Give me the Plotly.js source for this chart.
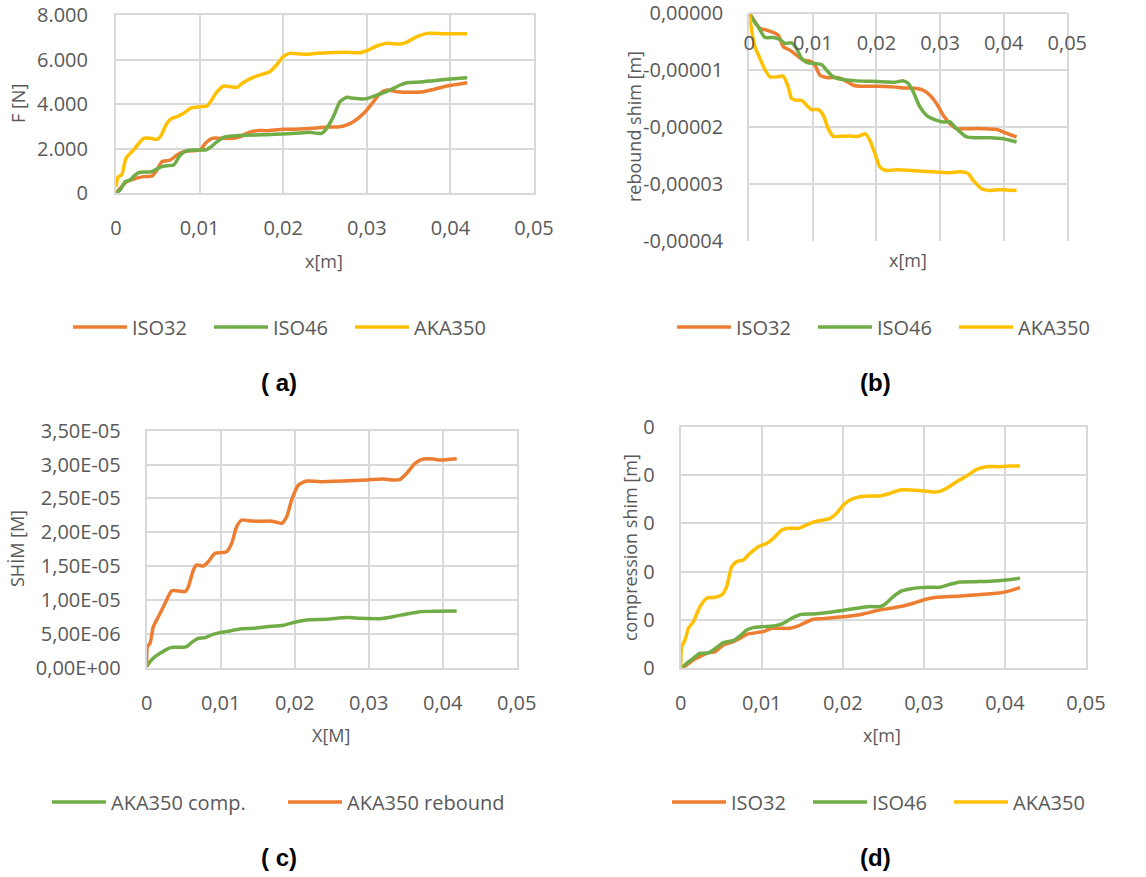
<!DOCTYPE html>
<html><head><meta charset="utf-8">
<script src="https://cdn.plot.ly/plotly-3.0.1.min.js"></script>
<style>html,body{margin:0;padding:0;background:#fff}#chart{width:1146px;height:877px}</style>
</head><body><div id="chart"></div>
<script>
// ---------- tick labels ----------
const xTickVals = [0, 0.01, 0.02, 0.03, 0.04, 0.05];
const xTickText = ['0', '0,01', '0,02', '0,03', '0,04', '0,05'];
const aYTickVals = [0, 2000, 4000, 6000, 8000];
const aYTickText = ['0', '2.000', '4.000', '6.000', '8.000'];
const bYTickVals = [0, -1e-5, -2e-5, -3e-5, -4e-5];
const bYTickText = ['0,00000', '-0,00001', '-0,00002', '-0,00003', '-0,00004'];
const cYTickVals = [0, 5e-6, 1e-5, 1.5e-5, 2e-5, 2.5e-5, 3e-5, 3.5e-5];
const cYTickText = ['0,00E+00', '5,00E-06', '1,00E-05', '1,50E-05', '2,00E-05', '2,50E-05', '3,00E-05', '3,50E-05'];
const dYTickVals = [0, 2e-6, 4e-6, 6e-6, 8e-6, 1e-5];
const dYTickText = ['0', '0', '0', '0', '0', '0'];

// ---------- (a) force F [N] ----------
const aIso32X = [0,0.0005,0.0013,0.0021,0.0033,0.0043,0.0049,0.0055,0.0065,0.0073,0.0081,0.0093,0.0101,0.0107,0.0115,0.0125,0.0141,0.0149,0.0156,0.0168,0.0180,0.0200,0.0220,0.0240,0.0252,0.0268,0.0276,0.0284,0.0292,0.0300,0.0308,0.0316,0.0324,0.0336,0.0352,0.0368,0.0380,0.0396,0.0420];
const aIso32Y = [0,224,523,643,748,777,1047,1420,1495,1719,1869,1914,1944,2243,2467,2467,2467,2542,2691,2811,2811,2870,2885,2930,2975,2990,3065,3214,3439,3738,4111,4485,4635,4560,4530,4560,4664,4814,4963];
const aIso46X = [0,0.0005,0.0011,0.0017,0.0023,0.0029,0.0041,0.0047,0.0055,0.0063,0.0069,0.0077,0.0085,0.0097,0.0107,0.0113,0.0121,0.0129,0.0141,0.0152,0.0168,0.0180,0.0200,0.0220,0.0232,0.0240,0.0246,0.0252,0.0260,0.0268,0.0276,0.0284,0.0296,0.0304,0.0316,0.0328,0.0340,0.0348,0.0364,0.0380,0.0400,0.0420];
const aIso46Y = [0,150,523,598,822,942,957,1047,1196,1241,1271,1719,1914,1944,1944,2063,2317,2512,2571,2601,2616,2631,2661,2706,2736,2691,2691,2915,3439,4111,4306,4261,4231,4291,4455,4635,4859,4963,4993,5053,5128,5188];
const aAkaX = [0,0.00028,0.00068,0.0012,0.0021,0.0033,0.0041,0.0049,0.0053,0.0061,0.0067,0.0073,0.0081,0.0089,0.0101,0.0109,0.0113,0.0121,0.0129,0.0137,0.0145,0.0152,0.0164,0.0176,0.0184,0.0192,0.0200,0.0208,0.0220,0.0228,0.0240,0.0252,0.0276,0.0292,0.0300,0.0312,0.0324,0.0340,0.0348,0.0360,0.0372,0.0392,0.0420];
const aAkaY = [299,748,822,1570,1944,2467,2467,2422,2542,3140,3364,3439,3588,3812,3887,3917,4111,4560,4814,4784,4754,4963,5203,5352,5457,5756,6130,6279,6249,6234,6279,6309,6324,6309,6399,6608,6728,6698,6787,7027,7176,7161,7161];

// ---------- (b) rebound shim [m] ----------
const bIso32X = [0,0.00089,0.00168,0.00273,0.00377,0.00456,0.00535,0.00639,0.00744,0.00849,0.00954,0.01033,0.01111,0.01216,0.01373,0.01478,0.01635,0.01740,0.02002,0.02264,0.02421,0.02631,0.02736,0.02841,0.02945,0.03050,0.03155,0.03260,0.03417,0.03679,0.03889,0.03994,0.04203];
const bIso32Y = [0,-0.158e-5,-0.275e-5,-0.304e-5,-0.345e-5,-0.392e-5,-0.596e-5,-0.655e-5,-0.743e-5,-0.830e-5,-0.848e-5,-0.918e-5,-1.094e-5,-1.135e-5,-1.135e-5,-1.170e-5,-1.269e-5,-1.287e-5,-1.287e-5,-1.298e-5,-1.316e-5,-1.327e-5,-1.357e-5,-1.444e-5,-1.591e-5,-1.795e-5,-1.942e-5,-2.029e-5,-2.029e-5,-2.029e-5,-2.041e-5,-2.088e-5,-2.175e-5];
const bIso46X = [0,0.00063,0.00141,0.00246,0.00377,0.00482,0.00561,0.00666,0.00744,0.00823,0.00928,0.01033,0.01137,0.01216,0.01321,0.01478,0.01688,0.01897,0.02159,0.02290,0.02421,0.02500,0.02579,0.02683,0.02788,0.02945,0.03050,0.03155,0.03260,0.03417,0.03574,0.03784,0.03994,0.04203];
const bIso46Y = [0,-0.129e-5,-0.246e-5,-0.433e-5,-0.433e-5,-0.468e-5,-0.538e-5,-0.526e-5,-0.626e-5,-0.801e-5,-0.877e-5,-0.889e-5,-0.906e-5,-1.006e-5,-1.123e-5,-1.170e-5,-1.193e-5,-1.199e-5,-1.211e-5,-1.216e-5,-1.193e-5,-1.240e-5,-1.386e-5,-1.649e-5,-1.795e-5,-1.883e-5,-1.912e-5,-1.912e-5,-2.029e-5,-2.175e-5,-2.187e-5,-2.187e-5,-2.205e-5,-2.263e-5];
const bAkaX = [0,0.00037,0.00089,0.00168,0.00246,0.00325,0.00430,0.00535,0.00613,0.00666,0.00744,0.00823,0.00901,0.00980,0.01085,0.01164,0.01242,0.01321,0.01426,0.01583,0.01714,0.01819,0.01897,0.01976,0.02055,0.02159,0.02317,0.02683,0.02945,0.03155,0.03312,0.03443,0.03522,0.03653,0.03784,0.03941,0.04203];
const bAkaY = [0,-0.304e-5,-0.596e-5,-0.801e-5,-0.994e-5,-1.123e-5,-1.123e-5,-1.111e-5,-1.298e-5,-1.503e-5,-1.532e-5,-1.532e-5,-1.620e-5,-1.696e-5,-1.696e-5,-1.795e-5,-2.029e-5,-2.164e-5,-2.164e-5,-2.158e-5,-2.164e-5,-2.117e-5,-2.234e-5,-2.468e-5,-2.702e-5,-2.760e-5,-2.749e-5,-2.772e-5,-2.789e-5,-2.801e-5,-2.784e-5,-2.819e-5,-2.936e-5,-3.082e-5,-3.111e-5,-3.099e-5,-3.111e-5];

// ---------- (c) AKA350 shim [M] ----------
const cCompX = [0,0.00045,0.00113,0.00180,0.00270,0.00338,0.00450,0.00541,0.00608,0.00698,0.00788,0.00878,0.00991,0.01126,0.01261,0.01441,0.01622,0.01847,0.02027,0.02162,0.02432,0.02703,0.02883,0.03153,0.03333,0.03514,0.03694,0.03874,0.04189];
const cCompY = [0.015e-5,0.089e-5,0.162e-5,0.212e-5,0.271e-5,0.300e-5,0.300e-5,0.310e-5,0.374e-5,0.433e-5,0.443e-5,0.483e-5,0.517e-5,0.542e-5,0.571e-5,0.581e-5,0.606e-5,0.625e-5,0.679e-5,0.704e-5,0.714e-5,0.739e-5,0.729e-5,0.724e-5,0.753e-5,0.793e-5,0.827e-5,0.832e-5,0.837e-5];
const cRebX = [0,0.00009,0.00045,0.00090,0.00158,0.00248,0.00338,0.00428,0.00518,0.00563,0.00631,0.00676,0.00766,0.00833,0.00923,0.01014,0.01081,0.01149,0.01216,0.01284,0.01374,0.01532,0.01667,0.01757,0.01824,0.01892,0.01959,0.02050,0.02162,0.02342,0.02658,0.02973,0.03198,0.03333,0.03423,0.03514,0.03626,0.03739,0.03874,0.03964,0.04189];
const cRebY = [0.04e-5,0.310e-5,0.359e-5,0.606e-5,0.753e-5,0.950e-5,1.137e-5,1.132e-5,1.123e-5,1.196e-5,1.443e-5,1.517e-5,1.502e-5,1.566e-5,1.689e-5,1.699e-5,1.713e-5,1.837e-5,2.083e-5,2.181e-5,2.171e-5,2.162e-5,2.166e-5,2.147e-5,2.132e-5,2.230e-5,2.477e-5,2.698e-5,2.757e-5,2.747e-5,2.757e-5,2.772e-5,2.787e-5,2.772e-5,2.782e-5,2.871e-5,3.018e-5,3.082e-5,3.082e-5,3.067e-5,3.087e-5];

// ---------- (d) compression shim [m] ----------
const dIso32X = [0,0.00074,0.00156,0.00238,0.00321,0.00424,0.00526,0.00650,0.00732,0.00814,0.00938,0.01020,0.01123,0.01225,0.01349,0.01451,0.01534,0.01637,0.01760,0.01924,0.02089,0.02253,0.02418,0.02582,0.02747,0.02870,0.02993,0.03158,0.03322,0.03528,0.03734,0.03898,0.04021,0.04186];
const dIso32Y = [0,0.138e-6,0.345e-6,0.483e-6,0.621e-6,0.690e-6,0.966e-6,1.103e-6,1.241e-6,1.407e-6,1.476e-6,1.517e-6,1.655e-6,1.655e-6,1.655e-6,1.752e-6,1.890e-6,2.028e-6,2.055e-6,2.110e-6,2.166e-6,2.248e-6,2.386e-6,2.483e-6,2.579e-6,2.690e-6,2.828e-6,2.938e-6,2.966e-6,3.007e-6,3.062e-6,3.103e-6,3.172e-6,3.338e-6];
const dIso46X = [0,0.00074,0.00156,0.00238,0.00321,0.00403,0.00526,0.00650,0.00732,0.00814,0.00896,0.01020,0.01143,0.01266,0.01369,0.01472,0.01637,0.01842,0.02007,0.02171,0.02336,0.02459,0.02521,0.02623,0.02726,0.02829,0.02952,0.03076,0.03199,0.03322,0.03446,0.03651,0.03816,0.04021,0.04186];
const dIso46Y = [0,0.207e-6,0.414e-6,0.621e-6,0.621e-6,0.759e-6,1.062e-6,1.145e-6,1.338e-6,1.586e-6,1.683e-6,1.724e-6,1.752e-6,1.862e-6,2.069e-6,2.221e-6,2.248e-6,2.317e-6,2.400e-6,2.483e-6,2.552e-6,2.552e-6,2.648e-6,2.966e-6,3.200e-6,3.283e-6,3.338e-6,3.352e-6,3.352e-6,3.476e-6,3.572e-6,3.586e-6,3.600e-6,3.655e-6,3.724e-6];
const dAkaX = [0,0.00012,0.00053,0.00095,0.00156,0.00238,0.00321,0.00424,0.00506,0.00567,0.00629,0.00691,0.00773,0.00855,0.00958,0.01061,0.01143,0.01246,0.01328,0.01451,0.01554,0.01657,0.01760,0.01842,0.01924,0.02007,0.02089,0.02212,0.02336,0.02459,0.02582,0.02706,0.02829,0.02993,0.03117,0.03199,0.03281,0.03405,0.03528,0.03651,0.03775,0.03939,0.04062,0.04186];
const dAkaY = [0,0.897e-6,1.172e-6,1.655e-6,1.931e-6,2.552e-6,2.897e-6,2.938e-6,3.034e-6,3.379e-6,4.207e-6,4.414e-6,4.483e-6,4.759e-6,5.034e-6,5.172e-6,5.379e-6,5.724e-6,5.793e-6,5.793e-6,5.931e-6,6.069e-6,6.138e-6,6.207e-6,6.414e-6,6.759e-6,6.966e-6,7.103e-6,7.131e-6,7.131e-6,7.241e-6,7.379e-6,7.379e-6,7.338e-6,7.297e-6,7.324e-6,7.448e-6,7.724e-6,7.959e-6,8.234e-6,8.345e-6,8.345e-6,8.372e-6,8.372e-6];

// ---------- styling ----------
const ORANGE = '#ED7D31', GREEN = '#70AD47', YELLOW = '#FFC000';
const FONT = 'Open Sans, Lato, sans-serif';
const GRAY = '#595959';

function ln(x, y, name, color, xa, ya, legend) {
  return {type: 'scatter', mode: 'lines', x: x, y: y, name: name, xaxis: xa, yaxis: ya, legend: legend,
    line: {color: color, width: 3.5, shape: 'spline', smoothing: 0.6}, hoverinfo: 'skip'};
}

const traces = [
  ln(aIso32X, aIso32Y, 'ISO32', ORANGE, 'x', 'y', 'legend'),
  ln(aIso46X, aIso46Y, 'ISO46', GREEN, 'x', 'y', 'legend'),
  ln(aAkaX, aAkaY, 'AKA350', YELLOW, 'x', 'y', 'legend'),
  ln(bIso32X, bIso32Y, 'ISO32', ORANGE, 'x2', 'y2', 'legend2'),
  ln(bIso46X, bIso46Y, 'ISO46', GREEN, 'x2', 'y2', 'legend2'),
  ln(bAkaX, bAkaY, 'AKA350', YELLOW, 'x2', 'y2', 'legend2'),
  ln(cCompX, cCompY, 'AKA350 comp.', GREEN, 'x3', 'y3', 'legend3'),
  ln(cRebX, cRebY, 'AKA350 rebound', ORANGE, 'x3', 'y3', 'legend3'),
  ln(dIso32X, dIso32Y, 'ISO32', ORANGE, 'x4', 'y4', 'legend4'),
  ln(dIso46X, dIso46Y, 'ISO46', GREEN, 'x4', 'y4', 'legend4'),
  ln(dAkaX, dAkaY, 'AKA350', YELLOW, 'x4', 'y4', 'legend4')
];

function ax(extra) {
  return Object.assign({
    showgrid: true, gridcolor: '#d9d9d9', gridwidth: 2, zeroline: false,
    showline: true, linecolor: '#d9d9d9', linewidth: 2, mirror: true,
    ticks: '', tickmode: 'array', fixedrange: true, ticklabeloverflow: 'allow',
    tickfont: {family: FONT, size: 20, color: GRAY}
  }, extra);
}
function xax(extra) {
  return ax(Object.assign({range: [0, 0.05], tickvals: xTickVals, ticktext: xTickText, ticklabelstandoff: 16}, extra));
}
function leg(x, y, ew) {
  return {orientation: 'h', x: x, y: y, xanchor: 'left', yanchor: 'middle', bgcolor: 'rgba(0,0,0,0)',
    font: {family: FONT, size: 20, color: GRAY}, itemwidth: 54, entrywidth: ew, entrywidthmode: 'pixels',
    traceorder: 'normal', itemclick: false, itemdoubleclick: false};
}
function title(text, x, y, rot) {
  return {text: text, xref: 'paper', yref: 'paper', x: x / 1146, y: 1 - y / 877, xanchor: 'center', yanchor: 'middle',
    showarrow: false, textangle: rot || 0, font: {family: FONT, size: 18, color: GRAY}};
}
function label(text, x, y) {
  return {text: '<b>' + text + '</b>', xref: 'paper', yref: 'paper', x: x / 1146, y: 1 - y / 877, xanchor: 'center', yanchor: 'middle',
    showarrow: false, font: {family: 'Liberation Sans, Arial, sans-serif', size: 24, color: '#000'}};
}

const layout = {
  width: 1146, height: 877, margin: {l: 0, r: 0, t: 0, b: 0},
  paper_bgcolor: '#fff', plot_bgcolor: '#fff', showlegend: true,
  xaxis: xax({domain: [0.1012, 0.466], anchor: 'y'}),
  yaxis: ax({domain: [0.7796, 0.9829], anchor: 'x', range: [0, 8000], tickvals: aYTickVals, ticktext: aYTickText, ticklabelstandoff: 22}),
  xaxis2: xax({domain: [0.6538, 0.9313], anchor: 'free', position: 0.9855, side: 'bottom', mirror: false, ticklabelstandoff: 12}),
  yaxis2: ax({domain: [0.7249, 0.9855], anchor: 'x2', range: [-4e-5, 0], tickvals: bYTickVals, ticktext: bYTickText, ticklabelstandoff: 20}),
  xaxis3: xax({domain: [0.128, 0.4509], anchor: 'y3'}),
  yaxis3: ax({domain: [0.2387, 0.5089], anchor: 'x3', range: [0, 3.5e-5], tickvals: cYTickVals, ticktext: cYTickText, ticklabelstandoff: 20}),
  xaxis4: xax({domain: [0.594, 0.9476], anchor: 'y4'}),
  yaxis4: ax({domain: [0.238, 0.5135], anchor: 'x4', range: [0, 1e-5], tickvals: dYTickVals, ticktext: dYTickText, ticklabelstandoff: 20}),
  legend: leg(68 / 1146, 1 - 327 / 877, 72),
  legend2: leg(672 / 1146, 1 - 327 / 877, 72),
  legend3: leg(47 / 1146, 1 - 802 / 877, 167),
  legend4: leg(667 / 1146, 1 - 802 / 877, 72),
  annotations: [
    title('F [N]', 18, 104, -90),
    title('x[m]', 324, 261),
    title('rebound shim [m]', 634, 127, -90),
    title('x[m]', 908, 260),
    title('SHİM [M]', 17, 549, -90),
    title('X[M]', 331, 735),
    title('compression shim [m]', 630, 548, -90),
    title('x[m]', 882, 735),
    label('( a)', 279, 382),
    label('(b)', 875, 382),
    label('( c)', 279, 857),
    label('(d)', 875, 857)
  ]
};

Plotly.newPlot('chart', traces, layout, {displayModeBar: false, staticPlot: true});
</script></body></html>
